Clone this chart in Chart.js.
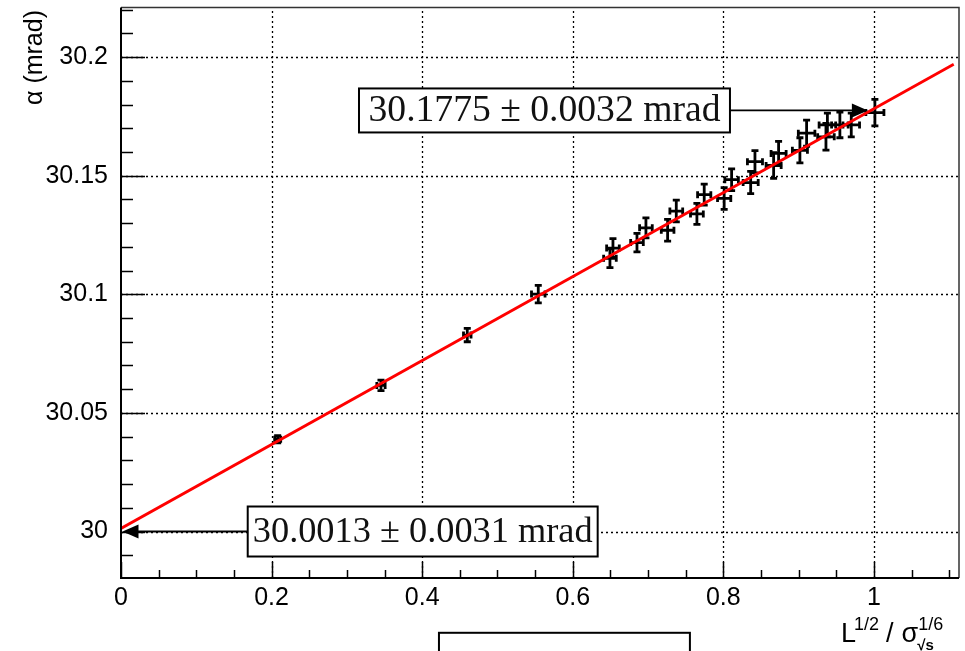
<!DOCTYPE html>
<html><head><meta charset="utf-8">
<script src="https://cdn.jsdelivr.net/npm/chart.js@4"></script>
<style>html,body{margin:0;padding:0;background:#fff;overflow:hidden}#wrap{width:965px;height:651px;position:relative}</style>
</head><body><div id="wrap"><canvas id="c" width="965" height="651"></canvas></div>
<script>
// ---- data ----
const xValues = [0.2081,0.3453,0.4599,0.5542,0.6494,0.6534,0.6853,0.6972,0.7260,0.7375,0.7649,0.7746,0.8011,0.8110,0.8363,0.8420,0.8668,0.8734,0.9017,0.9106,0.9363,0.9382,0.9548,0.9699,1.0013];
const yValues = [30.0389,30.0616,30.0828,30.1001,30.1152,30.1195,30.1218,30.1280,30.1270,30.1351,30.1339,30.1420,30.1404,30.1483,30.1471,30.1559,30.1543,30.1594,30.1607,30.1679,30.1664,30.1714,30.1714,30.1714,30.1766];
const xErrors = [0.004,0.0055,0.005,0.009,0.0084,0.0084,0.0084,0.0084,0.0084,0.0085,0.0085,0.0088,0.0088,0.009,0.010,0.010,0.010,0.010,0.010,0.011,0.011,0.011,0.011,0.011,0.012];
const yErrors = [0.0015,0.0022,0.0028,0.0037,0.0040,0.0040,0.0039,0.0042,0.0046,0.0046,0.0044,0.0044,0.0046,0.0046,0.0047,0.0047,0.0054,0.0051,0.0053,0.0055,0.0056,0.0050,0.0054,0.0050,0.0056];
const fitX = [0, 1.106];
const fitY = [30.0013, 30.197];
const xTickValues = [0,0.2,0.4,0.6,0.8,1];
const xTickLabels = ['0','0.2','0.4','0.6','0.8','1'];
const yTickValues = [30,30.05,30.1,30.15,30.2];
const yTickLabels = ['30','30.05','30.1','30.15','30.2'];
const upperResultText = '30.1775 \u00B1 0.0032 mrad';
const upperResultValue = 30.1775;
const lowerResultText = '30.0013 \u00B1 0.0031 mrad';
const lowerResultValue = 30.0;

const X_MIN = 0, X_MAX = 1.113, Y_MIN = 29.9804, Y_MAX = 30.2209;

function fitFont(ctx, text, family, targetW){
  ctx.font = '100px ' + family;
  const w = ctx.measureText(text).width;
  return 100 * targetW / w;
}

const rootPlugin = {
  id: 'rootStyle',
  beforeDatasetsDraw(chart){
    const {ctx, chartArea:a, scales:{x, y}} = chart;
    ctx.save();
    // dotted grid
    ctx.strokeStyle = '#000'; ctx.lineWidth = 1.3; ctx.setLineDash([2,3]);
    xTickValues.forEach(v => { if (v === 0) return; const px = Math.round(x.getPixelForValue(v))+0.5;
      ctx.beginPath(); ctx.moveTo(px, a.bottom); ctx.lineTo(px, a.top); ctx.stroke(); });
    yTickValues.forEach(v => { const py = Math.round(y.getPixelForValue(v))+0.5;
      ctx.beginPath(); ctx.moveTo(a.left, py); ctx.lineTo(a.right, py); ctx.stroke(); });
    ctx.setLineDash([]);
    // error bars
    ctx.lineWidth = 2.8; ctx.strokeStyle = '#000';
    const cap = 3.5;
    xValues.forEach((xv, i) => {
      const yv = yValues[i];
      const cx = x.getPixelForValue(xv), cy = y.getPixelForValue(yv);
      const x0 = x.getPixelForValue(xv - xErrors[i]), x1 = x.getPixelForValue(xv + xErrors[i]);
      const y0 = y.getPixelForValue(yv - yErrors[i]), y1 = y.getPixelForValue(yv + yErrors[i]);
      ctx.beginPath();
      ctx.moveTo(x0, cy); ctx.lineTo(x1, cy);
      ctx.moveTo(x0, cy-cap); ctx.lineTo(x0, cy+cap);
      ctx.moveTo(x1, cy-cap); ctx.lineTo(x1, cy+cap);
      ctx.moveTo(cx, y0); ctx.lineTo(cx, y1);
      ctx.moveTo(cx-cap, y0); ctx.lineTo(cx+cap, y0);
      ctx.moveTo(cx-cap, y1); ctx.lineTo(cx+cap, y1);
      ctx.stroke();
    });
    ctx.restore();
  },
  afterDatasetsDraw(chart){
    const {ctx, chartArea:a, scales:{x, y}} = chart;
    ctx.save();
    // frame
    ctx.strokeStyle = '#333'; ctx.lineWidth = 1.5;
    ctx.beginPath(); ctx.moveTo(a.left, a.top); ctx.lineTo(a.right, a.top); ctx.lineTo(a.right, a.bottom); ctx.stroke();
    ctx.strokeStyle = '#000'; ctx.lineWidth = 2;
    ctx.beginPath(); ctx.moveTo(a.left, a.top); ctx.lineTo(a.left, a.bottom); ctx.lineTo(a.right, a.bottom); ctx.stroke();
    // ticks
    ctx.lineWidth = 1.5;
    for (let k = 0; k <= 22; k++) {
      const v = k * 0.05; if (v > X_MAX) break;
      const major = (k % 4 === 0);
      const px = Math.round(x.getPixelForValue(v)) + 0.5;
      ctx.beginPath(); ctx.moveTo(px, a.bottom); ctx.lineTo(px, a.bottom - (major ? 16 : 8)); ctx.stroke();
    }
    for (let k = -2; k <= 22; k++) {
      const v = 30 + k * 0.01; if (v < Y_MIN || v > Y_MAX) continue;
      const major = (k % 5 === 0);
      const py = Math.round(y.getPixelForValue(v)) + 0.5;
      ctx.beginPath(); ctx.moveTo(a.left, py); ctx.lineTo(a.left + (major ? 24 : 12), py); ctx.stroke();
    }
    // annotation boxes and arrows
    const serif = '"Liberation Serif", "DejaVu Serif", serif';
    function box(x0v, x1v, cyv, h, text, textW){
      const bx0 = x.getPixelForValue(x0v), bx1 = x.getPixelForValue(x1v);
      const cy = y.getPixelForValue(cyv);
      ctx.fillStyle = '#fff'; ctx.fillRect(bx0, cy - h/2, bx1 - bx0, h);
      ctx.strokeStyle = '#000'; ctx.lineWidth = 2; ctx.strokeRect(bx0, cy - h/2, bx1 - bx0, h);
      const fs = fitFont(ctx, text, serif, textW);
      ctx.font = fs + 'px ' + serif; ctx.fillStyle = '#111';
      ctx.textAlign = 'center'; ctx.textBaseline = 'middle';
      ctx.fillText(text, (bx0 + bx1)/2, cy + 1);
      return {bx0, bx1, cy};
    }
    function arrow(fromX, toX, py){
      const dir = Math.sign(toX - fromX);
      ctx.strokeStyle = '#000'; ctx.fillStyle = '#000'; ctx.lineWidth = 1.8;
      ctx.beginPath(); ctx.moveTo(fromX, py); ctx.lineTo(toX - dir*14, py); ctx.stroke();
      ctx.beginPath(); ctx.moveTo(toX, py); ctx.lineTo(toX - dir*16, py - 7); ctx.lineTo(toX - dir*16, py + 7); ctx.closePath(); ctx.fill();
    }
    const ay1 = y.getPixelForValue(upperResultValue);
    const b1 = box(0.3161, 0.8088, upperResultValue, 44, upperResultText, 352);
    arrow(b1.bx1, x.getPixelForValue(0.992), ay1);
    const ay2 = y.getPixelForValue(lowerResultValue);
    const b2 = box(0.1683, 0.6331, lowerResultValue, 50, lowerResultText, 340);
    arrow(b2.bx0, x.getPixelForValue(0.002), ay2);
    // partial box at the bottom (cut by the picture edge)
    const pb0 = x.getPixelForValue(0.4223), pb1 = x.getPixelForValue(0.7556);
    ctx.strokeStyle = '#000'; ctx.lineWidth = 2;
    ctx.strokeRect(pb0, y.getPixelForValue(29.9573), pb1 - pb0, 60);

    // axis titles
    const sans = '"Liberation Sans", Arial, sans-serif';
    ctx.fillStyle = '#000'; ctx.textAlign = 'left'; ctx.textBaseline = 'alphabetic';
    let tx = 841; const base = 642;
    ctx.font = '27px ' + sans; ctx.fillText('L', tx, base); tx += ctx.measureText('L').width - 2;
    ctx.font = '18px ' + sans; ctx.fillText('1/2', tx, base - 12); tx += ctx.measureText('1/2').width + 7;
    ctx.font = '27px ' + sans; ctx.fillText('/', tx, base); tx += ctx.measureText('/').width + 8;
    ctx.fillText('\u03C3', tx, base); tx += ctx.measureText('\u03C3').width;
    ctx.font = '18px ' + sans; ctx.fillText('1/6', tx, base - 12);
    ctx.font = 'bold 15px ' + sans; ctx.fillText('\u221As', tx - 1, base + 8);

    ctx.save();
    ctx.translate(42, 10); ctx.rotate(-Math.PI/2);
    ctx.font = '25px ' + sans; ctx.textAlign = 'right'; ctx.textBaseline = 'alphabetic';
    ctx.fillText('\u03B1 (mrad)', 0, 0);
    ctx.restore();
    ctx.restore();
  }
};

Chart.defaults.font.family = '"Liberation Sans", Arial, sans-serif';
Chart.defaults.color = '#000';

new Chart(document.getElementById('c'), {
  type: 'scatter',
  data: {
    datasets: [
      { label: 'data', data: xValues.map((v, i) => ({x: v, y: yValues[i]})), pointRadius: 0, showLine: false },
      { label: 'fit', data: fitX.map((v, i) => ({x: v, y: fitY[i]})), showLine: true, borderColor: '#ff0000', borderWidth: 2.8, pointRadius: 0, fill: false }
    ]
  },
  options: {
    responsive: false, animation: false, devicePixelRatio: 1,
    layout: { padding: { left: 0, top: 7.5, right: 6, bottom: 0 } },
    plugins: { legend: { display: false }, tooltip: { enabled: false } },
    scales: {
      x: {
        type: 'linear', min: X_MIN, max: X_MAX,
        afterBuildTicks: s => { s.ticks = xTickValues.map(v => ({value: v})); },
        afterFit: s => { s.height = 73; s.paddingLeft = 0; s.paddingRight = 0; },
        ticks: { font: { size: 25 }, padding: 5, color: '#000', maxRotation: 0, autoSkip: false,
          callback: (v) => { const i = xTickValues.findIndex(t => Math.abs(t - v) < 1e-9); return i >= 0 ? xTickLabels[i] : ''; } },
        grid: { display: false, drawTicks: false, tickLength: 0 },
        border: { display: false }
      },
      y: {
        type: 'linear', min: Y_MIN, max: Y_MAX,
        afterBuildTicks: s => { s.ticks = yTickValues.map(v => ({value: v})); },
        afterFit: s => { s.width = 121; s.paddingTop = 0; s.paddingBottom = 0; },
        ticks: { font: { size: 25 }, padding: 13, color: '#000', autoSkip: false,
          callback: (v) => { const i = yTickValues.findIndex(t => Math.abs(t - v) < 1e-9); return i >= 0 ? yTickLabels[i] : ''; } },
        grid: { display: false, drawTicks: false, tickLength: 0 },
        border: { display: false }
      }
    }
  },
  plugins: [rootPlugin]
});
</script>
</body></html>
